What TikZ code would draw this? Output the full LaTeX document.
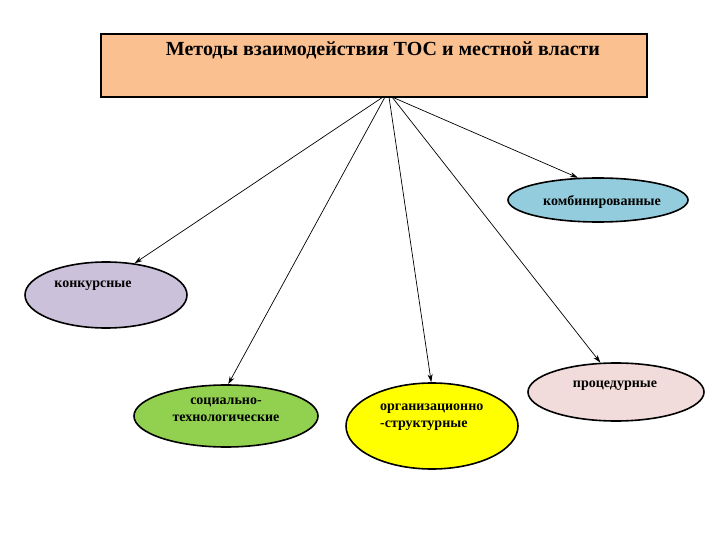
\documentclass[tikz,border=0pt]{standalone}
\usepackage{fontspec}
\setmainfont{Liberation Serif}
\usetikzlibrary{shapes.geometric,arrows.meta}
\definecolor{peach}{HTML}{FAC090}
\definecolor{cblue}{HTML}{93CDDD}
\definecolor{clav}{HTML}{CCC1DA}
\definecolor{cgreen}{HTML}{92D050}
\definecolor{cyell}{HTML}{FFFF00}
\definecolor{cpink}{HTML}{F2DCDB}
\tikzset{
  oval/.style={ellipse, draw=black, line width=1.6pt, inner sep=0pt},
  lbl/.style={font=\fontsize{14}{16.5}\selectfont\bfseries, align=left, inner sep=0pt},
  conn/.style={-{Stealth[length=8pt,width=5pt]}, line width=0.7pt}
}
\begin{document}
\begin{tikzpicture}[x=1pt,y=-1pt]
\useasboundingbox (0,0) rectangle (720,540);
\node[draw=black, line width=1.6pt, fill=peach, minimum width=546pt, minimum height=63pt, inner sep=0pt] (top) at (374,65.5) {};
\node[font=\fontsize{20}{22}\selectfont\bfseries, inner sep=0pt] (title) at (383,50) {Методы взаимодействия ТОС и местной власти};
\node[oval, fill=cblue, minimum width=180pt, minimum height=44pt] (comb) at (598,200) {};
\node[lbl] (combt) at (602,202) {комбинированные};
\node[oval, fill=clav, minimum width=162pt, minimum height=66pt] (konk) at (106,295) {};
\node[lbl] (konkt) at (93,286) {конкурсные};
\node[oval, fill=cgreen, minimum width=184pt, minimum height=62pt] (soc) at (226,416) {};
\node[lbl, align=center] (soct) at (226,410) {социально-\\технологические};
\node[oval, fill=cyell, minimum width=172pt, minimum height=86pt] (org) at (432,426) {};
\node[lbl, anchor=west] (orgt) at (380,417) {организационно\\-структурные};
\node[oval, fill=cpink, minimum width=176pt, minimum height=58pt] (proc) at (616,392) {};
\node[lbl] (proct) at (615,386) {процедурные};
\coordinate (s1) at (383,97);
\coordinate (s2) at (385,97);
\coordinate (s3) at (389,97);
\coordinate (s4) at (392,97);
\draw[conn] (s1) -- (konk.48);
\draw[conn] (s2) -- (soc.86);
\draw[conn] (s3) -- (org.91);
\draw[conn] (s4) -- (proc.118);
\draw[conn] (s4) -- (comb.132);
\end{tikzpicture}
\end{document}
